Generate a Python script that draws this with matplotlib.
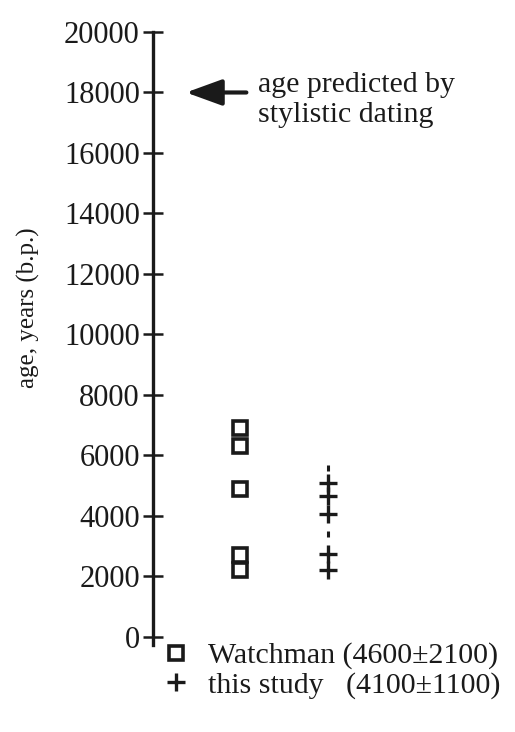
import matplotlib
matplotlib.use("Agg")
import matplotlib.pyplot as plt

plt.rcParams['font.family'] = ['Liberation Serif', 'DejaVu Serif']

# ---------------- DATA ---------------- #
yticks = [0, 2000, 4000, 6000, 8000, 10000, 12000, 14000, 16000, 18000, 20000]

watchman_ages = [6900, 6300, 4900, 2700, 2200]
this_study_ages = [5100, 4650, 4050, 2750, 2200]
faint_marks = [5600, 3400]   # partly printed crosses

stylistic_age = 18000

watchman_label = "Watchman (4600\u00b12100)"
study_label = "this study   (4100\u00b11100)"
ylabel = "age, years (b.p.)"
note = "age predicted by\nstylistic dating"

ink = '#1a1a1a'

# ---------------- PLOT ---------------- #
fig = plt.figure(figsize=(5.15, 7.32), dpi=100)
ax = fig.add_axes([0.2971, 0.1298, 0.7029, 0.8265])

ax.plot([1] * len(watchman_ages), watchman_ages, 's', ms=10, mfc='white',
        mec=ink, mew=2.6, ls='none', label=watchman_label)
ax.plot([2] * len(this_study_ages), this_study_ages, '+', ms=12.5,
        mec=ink, mew=2.4, ls='none', label=study_label)
ax.plot([2] * len(faint_marks), faint_marks, '|', ms=5, mec=ink, mew=2.2, ls='none')

ax.set_xlim(0.01, 4.12)
ax.set_ylim(0, 20000)
ax.set_yticks(yticks)
ax.set_yticklabels([str(t) for t in yticks], fontsize=22, color=ink)
ax.set_xticks([])

for side in ['top', 'right', 'bottom']:
    ax.spines[side].set_visible(False)
ax.spines['left'].set_linewidth(2.4)
ax.spines['left'].set_color(ink)
ax.spines['left'].set_bounds(-250, 20000)
ax.tick_params(axis='y', direction='inout', length=15, width=1.8, color=ink, pad=2)

ax.set_ylabel(ylabel, fontsize=18, color=ink)
ax.yaxis.set_label_coords(-0.312, 0.545)

# arrow + note
ax.annotate("", xy=(0.385, stylistic_age), xytext=(1.07, stylistic_age),
            arrowprops=dict(arrowstyle='-|>,head_length=1.1,head_width=0.4',
                            mutation_scale=20, lw=3, color=ink,
                            shrinkA=0, shrinkB=0))
ax.text(1.20, stylistic_age - 250, note, fontsize=21.5, color=ink,
        ha='left', va='center', linespacing=1.2)

ax.legend(loc='upper left', bbox_to_anchor=(-0.02, 0.016), frameon=False,
          fontsize=21.5, handlelength=1.0, handletextpad=0.6,
          labelspacing=0.08, borderpad=0, labelcolor=ink)

fig.savefig("out.png", dpi=100)
